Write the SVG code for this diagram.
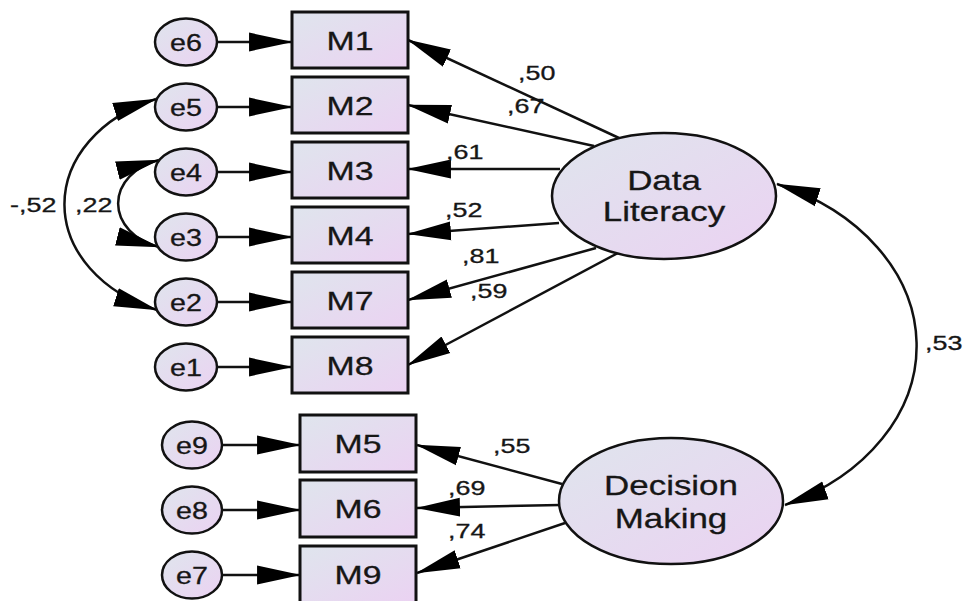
<svg xmlns="http://www.w3.org/2000/svg" width="966" height="601" viewBox="0 0 966 601">
<style>
.n{stroke:#111;stroke-width:3;fill:url(#g)}
.e{stroke:#111;stroke-width:2.5;fill:url(#g)}
.c{stroke:#111;stroke-width:2.5;fill:none;marker-end:url(#ah)}
.cc{stroke:#111;stroke-width:2.5;fill:none;marker-end:url(#ah);marker-start:url(#ah)}
text{font-family:"Liberation Sans",Arial,sans-serif;fill:#161616;stroke:#161616;stroke-width:0.3}
.bt{font-size:26px;text-anchor:middle}
.et{font-size:23.5px;text-anchor:middle}
.lt{font-size:27.5px;text-anchor:middle}
.lb{font-size:19.5px}
</style>
<defs>
<linearGradient id="g" x1="0" y1="0" x2="1" y2="1">
<stop offset="0" stop-color="#dfe5ed"/>
<stop offset="1" stop-color="#ebd2f2"/>
</linearGradient>
<marker id="ah" markerUnits="userSpaceOnUse" markerWidth="44" markerHeight="20" viewBox="0 0 42 18" refX="41" refY="9" orient="auto-start-reverse">
<path d="M0,0 L42,9 L0,18 z" fill="#000"/>
</marker>
</defs>
<rect width="966" height="601" fill="#fff"/>
<g id="connectors">
<line class="c" x1="217" y1="42" x2="292" y2="42"/>
<line class="c" x1="217" y1="107" x2="292" y2="107"/>
<line class="c" x1="217" y1="172" x2="292" y2="172"/>
<line class="c" x1="217" y1="237" x2="292" y2="237"/>
<line class="c" x1="217" y1="302" x2="292" y2="302"/>
<line class="c" x1="217" y1="367" x2="292" y2="367"/>
<line class="c" x1="222" y1="445" x2="300" y2="445"/>
<line class="c" x1="222" y1="510" x2="300" y2="510"/>
<line class="c" x1="222" y1="575" x2="300" y2="575"/>
<line class="c" x1="619" y1="138" x2="408" y2="40"/>
<line class="c" x1="594" y1="146" x2="408" y2="105"/>
<line class="c" x1="560" y1="169" x2="408" y2="169"/>
<line class="c" x1="559" y1="223" x2="408" y2="234"/>
<line class="c" x1="596" y1="248" x2="408" y2="300"/>
<line class="c" x1="618" y1="253" x2="408" y2="365"/>
<line class="c" x1="562" y1="484" x2="417" y2="445"/>
<line class="c" x1="560" y1="505" x2="417" y2="508"/>
<line class="c" x1="565" y1="523" x2="417" y2="573"/>
<path class="cc" d="M156,99 A148.2 114 0 0 0 157,310"/>
<path class="cc" d="M159,160 A59.5 45.8 0 0 0 159,247"/>
<path class="cc" d="M777,184 A228 175.6 0 0 1 785,505"/>
</g>
<g id="e6"><ellipse class="e" cx="186" cy="42" rx="31" ry="23.5"/><text class="et" transform="translate(186,50.5) scale(1.22,1)">e6</text></g>
<g id="e5"><ellipse class="e" cx="186" cy="107" rx="31" ry="23.5"/><text class="et" transform="translate(186,115.5) scale(1.22,1)">e5</text></g>
<g id="e4"><ellipse class="e" cx="186" cy="172" rx="31" ry="23.5"/><text class="et" transform="translate(186,180.5) scale(1.22,1)">e4</text></g>
<g id="e3"><ellipse class="e" cx="186" cy="237" rx="31" ry="23.5"/><text class="et" transform="translate(186,245.5) scale(1.22,1)">e3</text></g>
<g id="e2"><ellipse class="e" cx="186" cy="302" rx="31" ry="23.5"/><text class="et" transform="translate(186,310.5) scale(1.22,1)">e2</text></g>
<g id="e1"><ellipse class="e" cx="186" cy="367" rx="31" ry="23.5"/><text class="et" transform="translate(186,375.5) scale(1.22,1)">e1</text></g>
<g id="e9"><ellipse class="e" cx="192" cy="445" rx="30" ry="23.5"/><text class="et" transform="translate(192,453.5) scale(1.22,1)">e9</text></g>
<g id="e8"><ellipse class="e" cx="192" cy="510" rx="30" ry="23.5"/><text class="et" transform="translate(192,518.5) scale(1.22,1)">e8</text></g>
<g id="e7"><ellipse class="e" cx="192" cy="575" rx="30" ry="23.5"/><text class="et" transform="translate(192,583.5) scale(1.22,1)">e7</text></g>
<g id="M1"><rect class="n" x="292" y="12" width="116" height="56"/><text class="bt" transform="translate(350,49.5) scale(1.3,1)">M1</text></g>
<g id="M2"><rect class="n" x="292" y="77" width="116" height="56"/><text class="bt" transform="translate(350,114.5) scale(1.3,1)">M2</text></g>
<g id="M3"><rect class="n" x="292" y="142" width="116" height="56"/><text class="bt" transform="translate(350,179.5) scale(1.3,1)">M3</text></g>
<g id="M4"><rect class="n" x="292" y="207" width="116" height="56"/><text class="bt" transform="translate(350,244.5) scale(1.3,1)">M4</text></g>
<g id="M7"><rect class="n" x="292" y="272" width="116" height="56"/><text class="bt" transform="translate(350,309.5) scale(1.3,1)">M7</text></g>
<g id="M8"><rect class="n" x="292" y="337" width="116" height="56"/><text class="bt" transform="translate(350,374.5) scale(1.3,1)">M8</text></g>
<g id="M5"><rect class="n" x="300" y="415" width="116" height="57"/><text class="bt" transform="translate(358,453) scale(1.3,1)">M5</text></g>
<g id="M6"><rect class="n" x="300" y="480" width="116" height="57"/><text class="bt" transform="translate(358,518) scale(1.3,1)">M6</text></g>
<g id="M9"><rect class="n" x="300" y="546" width="116" height="57"/><text class="bt" transform="translate(358,584) scale(1.3,1)">M9</text></g>
<g id="DataLiteracy"><ellipse class="e" cx="664" cy="196" rx="112" ry="63"/><text class="lt" transform="translate(664,190) scale(1.27,1)">Data</text><text class="lt" transform="translate(664,221) scale(1.27,1)">Literacy</text></g>
<g id="DecisionMaking"><ellipse class="e" cx="671" cy="501" rx="112" ry="63"/><text class="lt" transform="translate(671,495) scale(1.27,1)">Decision</text><text class="lt" transform="translate(671,528) scale(1.27,1)">Making</text></g>
<g id="labels">
<text class="lb" transform="translate(518,80) scale(1.38,1)">,50</text>
<text class="lb" transform="translate(507,113) scale(1.38,1)">,67</text>
<text class="lb" transform="translate(446,159) scale(1.38,1)">,61</text>
<text class="lb" transform="translate(445,217) scale(1.38,1)">,52</text>
<text class="lb" transform="translate(462,263) scale(1.38,1)">,81</text>
<text class="lb" transform="translate(470,298) scale(1.38,1)">,59</text>
<text class="lb" transform="translate(493,453) scale(1.38,1)">,55</text>
<text class="lb" transform="translate(448,495) scale(1.38,1)">,69</text>
<text class="lb" transform="translate(448,538) scale(1.38,1)">,74</text>
<text class="lb" transform="translate(925,350) scale(1.38,1)">,53</text>
<text class="lb" transform="translate(10,212) scale(1.38,1)">-,52</text>
<text class="lb" transform="translate(75,212) scale(1.38,1)">,22</text>
</g>
</svg>
